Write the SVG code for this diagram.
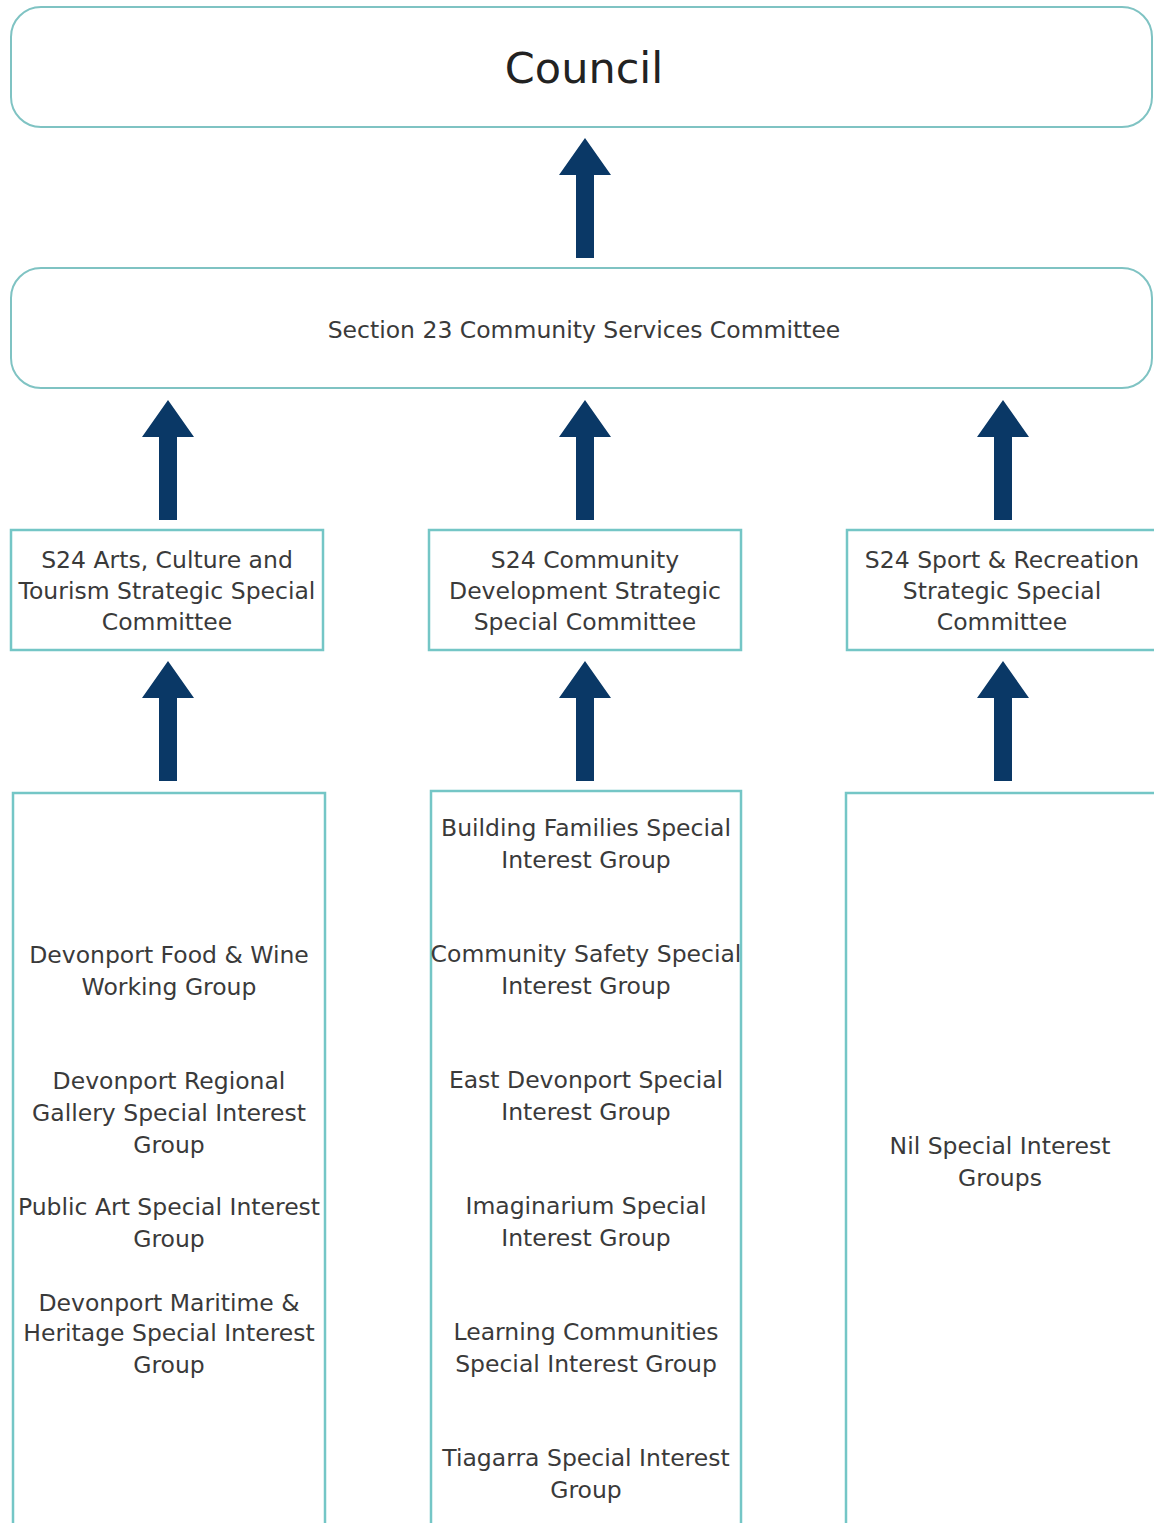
<svg xmlns="http://www.w3.org/2000/svg" width="1154" height="1523" viewBox="0 0 1154 1523">
<style>
.rbox{fill:#ffffff;stroke:#7fc3c3;stroke-width:2}
.box{fill:#ffffff;stroke:#74c6c6;stroke-width:2.5}
.t{font-family:"DejaVu Sans","Liberation Sans",Arial,sans-serif;fill:#3a3a3a;text-anchor:middle;font-size:23.5px}
.arrow{fill:#0a3866}
</style>
<defs>
<path id="arr" d="M0,0 L26,37 L9,37 L9,120 L-9,120 L-9,37 L-26,37 Z"/>
</defs>
<rect width="1154" height="1523" fill="#ffffff"/>
<g id="connectors" class="arrow">
<use href="#arr" x="585" y="138"/>
<use href="#arr" x="168" y="400"/>
<use href="#arr" x="585" y="400"/>
<use href="#arr" x="1003" y="400"/>
<use href="#arr" x="168" y="661"/>
<use href="#arr" x="585" y="661"/>
<use href="#arr" x="1003" y="661"/>
</g>
<g id="council">
<rect class="rbox" x="11" y="7" width="1141" height="120" rx="30"/>
<text class="t" x="584" y="83" style="font-size:43px;fill:#222">Council</text>
</g>
<g id="section23">
<rect class="rbox" x="11" y="268" width="1141" height="120" rx="30"/>
<text class="t" x="584" y="338" style="font-size:23.5px">Section 23 Community Services Committee</text>
</g>
<g id="s24-arts">
<rect class="box" x="11" y="530" width="312" height="120"/>
<text class="t" x="167" y="568">S24 Arts, Culture and</text>
<text class="t" x="167" y="599">Tourism Strategic Special</text>
<text class="t" x="167" y="630">Committee</text>
</g>
<g id="s24-community">
<rect class="box" x="429" y="530" width="312" height="120"/>
<text class="t" x="585" y="568">S24 Community</text>
<text class="t" x="585" y="599">Development Strategic</text>
<text class="t" x="585" y="630">Special Committee</text>
</g>
<g id="s24-sport">
<rect class="box" x="847" y="530" width="330" height="120"/>
<text class="t" x="1002" y="568">S24 Sport &amp; Recreation</text>
<text class="t" x="1002" y="599">Strategic Special</text>
<text class="t" x="1002" y="630">Committee</text>
</g>
<g id="arts-groups">
<rect class="box" x="13" y="793" width="312" height="760"/>
<text class="t" x="169" y="963">Devonport Food &amp; Wine</text>
<text class="t" x="169" y="995">Working Group</text>
<text class="t" x="169" y="1089">Devonport Regional</text>
<text class="t" x="169" y="1121">Gallery Special Interest</text>
<text class="t" x="169" y="1153">Group</text>
<text class="t" x="169" y="1215">Public Art Special Interest</text>
<text class="t" x="169" y="1247">Group</text>
<text class="t" x="169" y="1311">Devonport Maritime &amp;</text>
<text class="t" x="169" y="1341">Heritage Special Interest</text>
<text class="t" x="169" y="1373">Group</text>
</g>
<g id="community-groups">
<rect class="box" x="431" y="791" width="310" height="760"/>
<text class="t" x="586" y="836">Building Families Special</text>
<text class="t" x="586" y="868">Interest Group</text>
<text class="t" x="586" y="962">Community Safety Special</text>
<text class="t" x="586" y="994">Interest Group</text>
<text class="t" x="586" y="1088">East Devonport Special</text>
<text class="t" x="586" y="1120">Interest Group</text>
<text class="t" x="586" y="1214">Imaginarium Special</text>
<text class="t" x="586" y="1246">Interest Group</text>
<text class="t" x="586" y="1340">Learning Communities</text>
<text class="t" x="586" y="1372">Special Interest Group</text>
<text class="t" x="586" y="1466">Tiagarra Special Interest</text>
<text class="t" x="586" y="1498">Group</text>
</g>
<g id="sport-groups">
<rect class="box" x="846" y="793" width="330" height="760"/>
<text class="t" x="1000" y="1154">Nil Special Interest</text>
<text class="t" x="1000" y="1186">Groups</text>
</g>
</svg>
